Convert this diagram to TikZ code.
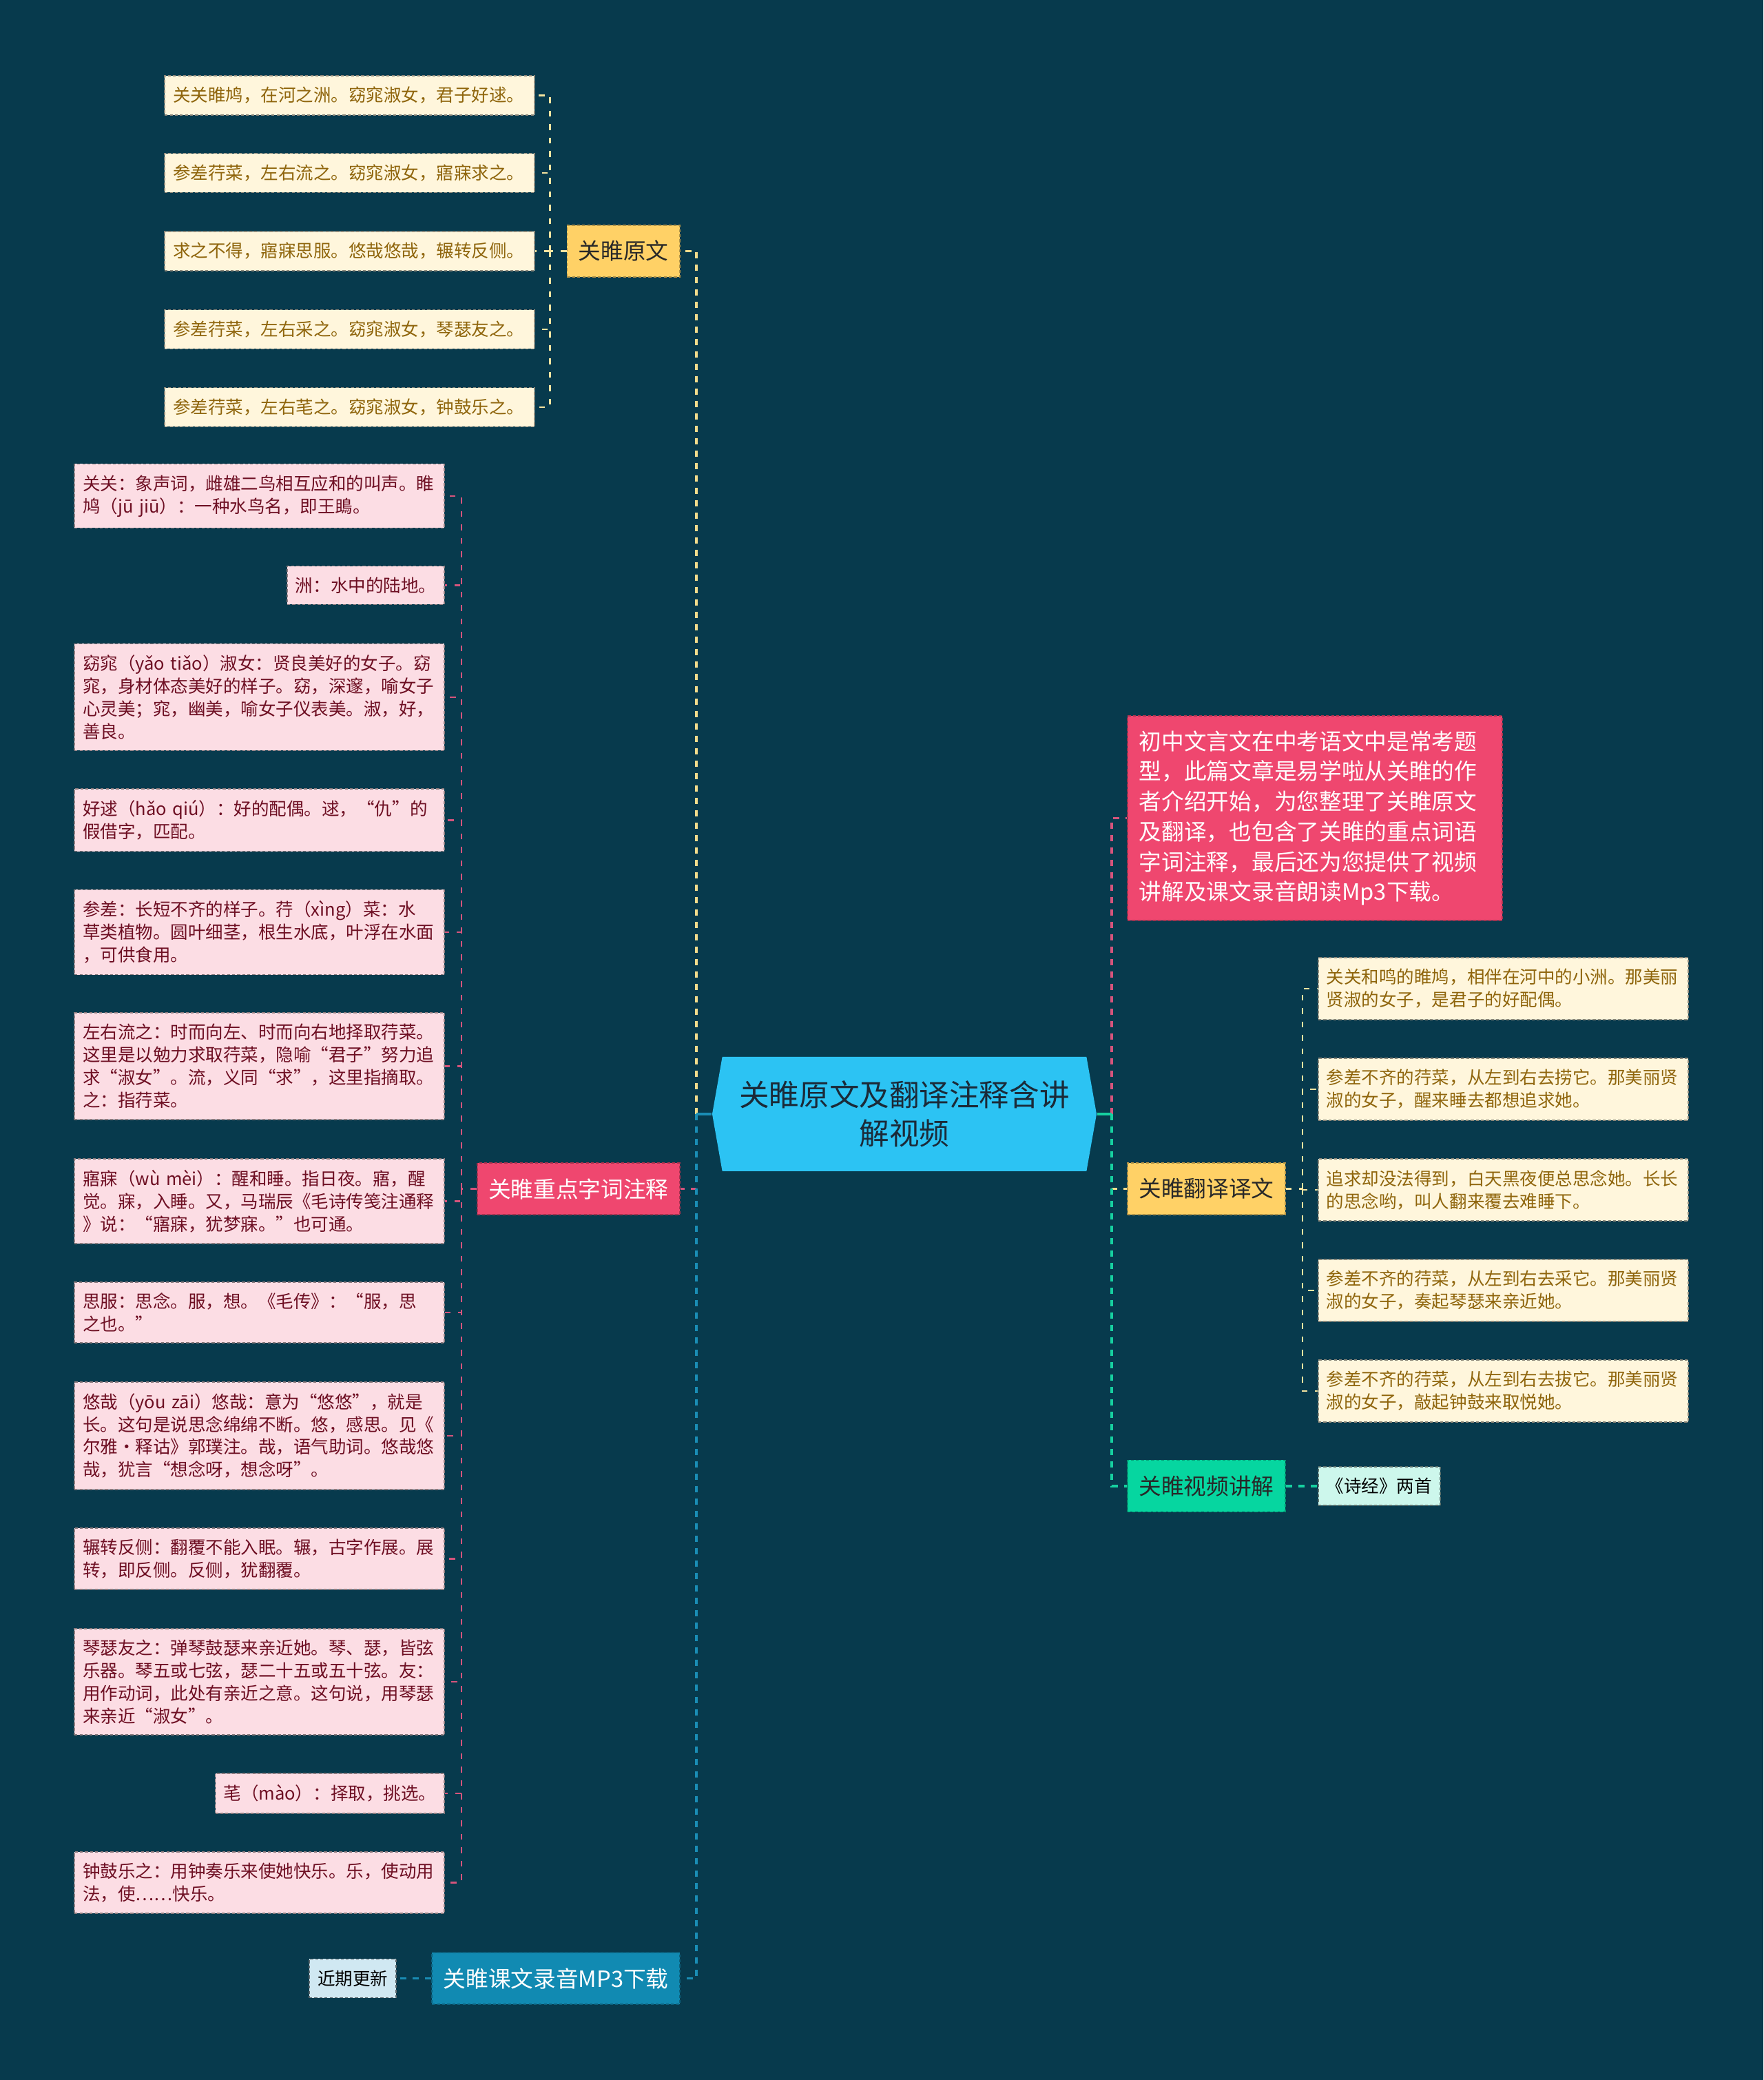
\documentclass[tikz,border=0pt]{standalone}
\usepackage{fontspec}
\newfontfamily\cjk{Noto Sans CJK SC}
\usetikzlibrary{shapes.symbols}
\definecolor{bgteal}{RGB}{7,58,77}
\definecolor{rootblue}{RGB}{44,195,243}
\definecolor{rootink}{RGB}{27,42,56}
\definecolor{topicgold}{RGB}{255,209,102}
\definecolor{topicrose}{RGB}{239,71,111}
\definecolor{topicblue}{RGB}{17,138,178}
\definecolor{topicgreen}{RGB}{6,214,160}
\definecolor{topicink}{RGB}{40,40,40}
\definecolor{creamfill}{RGB}{255,246,220}
\definecolor{goldink}{RGB}{143,101,12}
\definecolor{rosefill}{RGB}{252,221,228}
\definecolor{roseink}{RGB}{110,15,35}
\definecolor{skyfill}{RGB}{208,232,242}
\definecolor{mintfill}{RGB}{205,247,236}
\definecolor{trunkgold}{RGB}{242,220,140}
\definecolor{trunkrose}{RGB}{214,84,124}
\definecolor{trunkblue}{RGB}{26,141,181}
\definecolor{trunkgreen}{RGB}{22,208,160}
\definecolor{twiggold}{RGB}{245,228,160}
\tikzset{
  rootnode/.style={shape=signal, signal to=east and west, signal pointer angle=160, fill=rootblue, text=rootink, minimum width=5.58cm, minimum height=1.66cm, inner sep=0pt, align=center, font=\cjk\fontsize{12.4}{15.9}\selectfont},
  topic/.style={fill=#1, draw=#1!70!black, line width=0.5pt, dash pattern=on 1.2pt off 0.9pt, minimum height=0.75cm, inner xsep=0.165cm, font=\cjk\fontsize{9.3}{12.4}\selectfont},
  intronote/.style={fill=topicrose, draw=topicrose!70!black, line width=0.5pt, dash pattern=on 1.2pt off 0.9pt, text=white, text width=5.1cm, align=left, inner xsep=0.17cm, inner ysep=6.1pt, font=\cjk\fontsize{9.3}{12.45}\selectfont},
  leaf/.style={line width=0.5pt, dash pattern=on 1.2pt off 0.9pt, inner xsep=0.12cm, inner ysep=4.6pt, font=\cjk\fontsize{7.26}{9.36}\selectfont},
  leafgold/.style={leaf, fill=creamfill, draw=creamfill!55!black, text=goldink},
  leafrose/.style={leaf, fill=rosefill, draw=rosefill!55!black, text=roseink},
  leafsky/.style={leaf, fill=skyfill, draw=skyfill!45!black, text=black},
  leafmint/.style={leaf, fill=mintfill, draw=mintfill!45!black, text=black},
  wide/.style={text width=5.13cm, align=left},
  trunk/.style={draw=#1, line width=1.1pt, dash pattern=on 0.09cm off 0.09cm},
  stem/.style={draw=#1, line width=1.1pt},
  twig/.style={draw=#1, line width=0.65pt, dash pattern=on 0.085cm off 0.11cm},
}

\begin{document}
\begin{tikzpicture}
\useasboundingbox (0,0) rectangle (25.6,30.19);
\fill[bgteal] (0,0) rectangle (25.6,30.19);
\node[rootnode] (root) at (13.130,14.020) {关睢原文及翻译注释含讲\\解视频};
\node[topic=topicgold, text=topicink, anchor=east] (yuanwen) at (9.880,26.545) {关睢原文};
\node[topic=topicrose, text=white, anchor=east] (zhushi) at (9.880,12.935) {关睢重点字词注释};
\node[topic=topicblue, text=white, anchor=east] (mpsan) at (9.880,1.475) {关睢课文录音MP3下载};
\node[leafsky, anchor=east] (jinqi) at (5.760,1.475) {近期更新};
\node[intronote, anchor=west] (intro) at (16.360,18.315) {初中文言文在中考语文中是常考题\\型，此篇文章是易学啦从关睢的作\\者介绍开始，为您整理了关睢原文\\及翻译，也包含了关睢的重点词语\\字词注释，最后还为您提供了视频\\讲解及课文录音朗读Mp3下载。};
\node[topic=topicgold, text=topicink, anchor=west] (fanyi) at (16.360,12.935) {关睢翻译译文};
\node[topic=topicgreen, text=topicink, anchor=west] (shipin) at (16.360,8.620) {关睢视频讲解};
\node[leafmint, anchor=west] (shijing) at (19.130,8.620) {《诗经》两首};
% original poem
\node[leafgold, wide, anchor=east] (yw1) at (7.770,28.805) {关关睢鸠，在河之洲。窈窕淑女，君子好逑。};
\node[leafgold, wide, anchor=east] (yw2) at (7.770,27.680) {参差荇菜，左右流之。窈窕淑女，寤寐求之。};
\node[leafgold, wide, anchor=east] (yw3) at (7.770,26.545) {求之不得，寤寐思服。悠哉悠哉，辗转反侧。};
\node[leafgold, wide, anchor=east] (yw4) at (7.770,25.410) {参差荇菜，左右采之。窈窕淑女，琴瑟友之。};
\node[leafgold, wide, anchor=east] (yw5) at (7.770,24.280) {参差荇菜，左右芼之。窈窕淑女，钟鼓乐之。};
% notes
\node[leafrose, wide, anchor=east] (zs1) at (6.460,22.990) {关关：象声词，雌雄二鸟相互应和的叫声。睢\\鸠（jū~jiū）：一种水鸟名，即王鴡。};
\node[leafrose, anchor=east] (zs2) at (6.460,21.695) {洲：水中的陆地。};
\node[leafrose, wide, anchor=east] (zs3) at (6.460,20.070) {窈窕（yǎo~tiǎo）淑女：贤良美好的女子。窈\\窕，身材体态美好的样子。窈，深邃，喻女子\\心灵美；窕，幽美，喻女子仪表美。淑，好，\\善良。};
\node[leafrose, wide, anchor=east] (zs4) at (6.460,18.285) {好逑（hǎo~qiú）：好的配偶。逑，“仇”的\\假借字，匹配。};
\node[leafrose, wide, anchor=east] (zs5) at (6.460,16.660) {参差：长短不齐的样子。荇（xìng）菜：水\\草类植物。圆叶细茎，根生水底，叶浮在水面\\，可供食用。};
\node[leafrose, wide, anchor=east] (zs6) at (6.460,14.715) {左右流之：时而向左、时而向右地择取荇菜。\\这里是以勉力求取荇菜，隐喻“君子”努力追\\求“淑女”。流，义同“求”，这里指摘取。\\之：指荇菜。};
\node[leafrose, wide, anchor=east] (zs7) at (6.460,12.755) {寤寐（wù~mèi）：醒和睡。指日夜。寤，醒\\觉。寐，入睡。又，马瑞辰《毛诗传笺注通释\\》说：“寤寐，犹梦寐。”也可通。};
\node[leafrose, wide, anchor=east] (zs8) at (6.460,11.140) {思服：思念。服，想。《毛传》：“服，思\\之也。”};
\node[leafrose, wide, anchor=east] (zs9) at (6.460,9.350) {悠哉（yōu~zāi）悠哉：意为“悠悠”，就是\\长。这句是说思念绵绵不断。悠，感思。见《\\尔雅·释诂》郭璞注。哉，语气助词。悠哉悠\\哉，犹言“想念呀，想念呀”。};
\node[leafrose, wide, anchor=east] (zs10) at (6.460,7.565) {辗转反侧：翻覆不能入眠。辗，古字作展。展\\转，即反侧。反侧，犹翻覆。};
\node[leafrose, wide, anchor=east] (zs11) at (6.460,5.780) {琴瑟友之：弹琴鼓瑟来亲近她。琴、瑟，皆弦\\乐器。琴五或七弦，瑟二十五或五十弦。友：\\用作动词，此处有亲近之意。这句说，用琴瑟\\来亲近“淑女”。};
\node[leafrose, anchor=east] (zs12) at (6.460,4.160) {芼（mào）：择取，挑选。};
\node[leafrose, wide, anchor=east] (zs13) at (6.460,2.865) {钟鼓乐之：用钟奏乐来使她快乐。乐，使动用\\法，使……快乐。};
% translation
\node[leafgold, wide, anchor=west] (fy1) at (19.130,15.840) {关关和鸣的睢鸠，相伴在河中的小洲。那美丽\\贤淑的女子，是君子的好配偶。};
\node[leafgold, wide, anchor=west] (fy2) at (19.130,14.380) {参差不齐的荇菜，从左到右去捞它。那美丽贤\\淑的女子，醒来睡去都想追求她。};
\node[leafgold, wide, anchor=west] (fy3) at (19.130,12.920) {追求却没法得到，白天黑夜便总思念她。长长\\的思念哟，叫人翻来覆去难睡下。};
\node[leafgold, wide, anchor=west] (fy4) at (19.130,11.460) {参差不齐的荇菜，从左到右去采它。那美丽贤\\淑的女子，奏起琴瑟来亲近她。};
\node[leafgold, wide, anchor=west] (fy5) at (19.130,10.000) {参差不齐的荇菜，从左到右去拔它。那美丽贤\\淑的女子，敲起钟鼓来取悦她。};
% connectors
\coordinate (lfork) at ([xshift=-0.22cm]root.west);
\coordinate (rfork) at ([xshift=0.21cm]root.east);
\coordinate (ywfork) at ([xshift=-0.24cm]yuanwen.west);
\coordinate (zsfork) at ([xshift=-0.22cm]zhushi.west);
\coordinate (fyfork) at ([xshift=0.24cm]fanyi.east);
\draw[trunk=trunkrose] (lfork) |- (zhushi.east);
\draw[trunk=trunkgold] (lfork) |- (yuanwen.east);
\draw[trunk=trunkblue] (lfork) |- (mpsan.east);
\draw[stem=trunkblue] (root.west) -- (lfork);
\draw[trunk=trunkgold] (rfork) |- (fanyi.west);
\draw[trunk=trunkrose] (rfork) |- (intro.west);
\draw[trunk=trunkgreen] (rfork) |- (shipin.west);
\draw[stem=trunkgreen] (root.east) -- (rfork);
\draw[trunk=trunkblue] (mpsan.west) -- (jinqi.east);
\draw[trunk=trunkgreen] (shipin.east) -- (shijing.west);
\draw[twig=twiggold] (yuanwen.west) -- (ywfork);
\draw[twig=twiggold] (ywfork) |- (yw1.east);
\draw[twig=twiggold] (ywfork) |- (yw2.east);
\draw[twig=twiggold] (ywfork) |- (yw3.east);
\draw[twig=twiggold] (ywfork) |- (yw4.east);
\draw[twig=twiggold] (ywfork) |- (yw5.east);
\draw[twig=trunkrose] (zhushi.west) -- (zsfork);
\draw[twig=trunkrose] (zsfork) |- (zs1.east);
\draw[twig=trunkrose] (zsfork) |- (zs2.east);
\draw[twig=trunkrose] (zsfork) |- (zs3.east);
\draw[twig=trunkrose] (zsfork) |- (zs4.east);
\draw[twig=trunkrose] (zsfork) |- (zs5.east);
\draw[twig=trunkrose] (zsfork) |- (zs6.east);
\draw[twig=trunkrose] (zsfork) |- (zs7.east);
\draw[twig=trunkrose] (zsfork) |- (zs8.east);
\draw[twig=trunkrose] (zsfork) |- (zs9.east);
\draw[twig=trunkrose] (zsfork) |- (zs10.east);
\draw[twig=trunkrose] (zsfork) |- (zs11.east);
\draw[twig=trunkrose] (zsfork) |- (zs12.east);
\draw[twig=trunkrose] (zsfork) |- (zs13.east);
\draw[twig=twiggold] (fanyi.east) -- (fyfork);
\draw[twig=twiggold] (fyfork) |- (fy1.west);
\draw[twig=twiggold] (fyfork) |- (fy2.west);
\draw[twig=twiggold] (fyfork) |- (fy3.west);
\draw[twig=twiggold] (fyfork) |- (fy4.west);
\draw[twig=twiggold] (fyfork) |- (fy5.west);
\end{tikzpicture}
\end{document}
